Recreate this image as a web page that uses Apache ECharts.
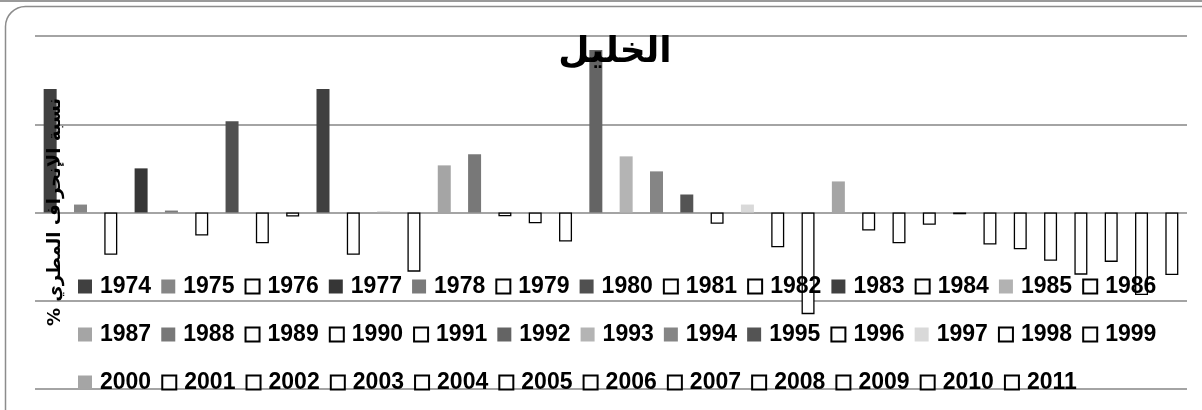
<!DOCTYPE html>
<html>
<head>
<meta charset="utf-8">
<script src="https://cdn.jsdelivr.net/npm/echarts@6/dist/echarts.min.js"></script>
<style>
html,body{margin:0;padding:0;background:#fff;}
#chart{width:1202px;height:410px;}
</style>
</head>
<body>
<div id="chart"></div>
<script>
const titleText = 'الخليل';
const yAxisTitle = 'نسبة الإنحراف المطري %';
const years = ['1974','1975','1976','1977','1978','1979','1980','1981','1982','1983','1984','1985','1986',
               '1987','1988','1989','1990','1991','1992','1993','1994','1995','1996','1997','1998','1999',
               '2000','2001','2002','2003','2004','2005','2006','2007','2008','2009','2010','2011'];
const values = [70, 4.5, -24, 25, 1.1, -13.1, 51.7, -17.4, -2.3, 70, -24, 0.5, -33.5,
                26.7, 33, -2.1, -6.1, -16.5, 92, 31.8, 23.3, 10.2, -6.4, 4.5, -19.7, -57.6,
                17.6, -10.2, -17.4, -7, -1, -18.2, -20.8, -27.3, -35.2, -28, -46.8, -35.4];
const fills = ['#404040','#868686','#ffffff','#363636','#7a7a7a','#ffffff','#505050','#ffffff','#ffffff','#404040','#ffffff','#b2b2b2','#ffffff',
               '#a5a5a5','#787878','#ffffff','#ffffff','#ffffff','#646464','#b4b4b4','#858585','#545454','#ffffff','#d9d9d9','#ffffff','#ffffff',
               '#a5a5a5','#ffffff','#ffffff','#ffffff','#ffffff','#ffffff','#ffffff','#ffffff','#ffffff','#ffffff','#ffffff','#ffffff'];
const legendRows = [years.slice(0,13), years.slice(13,26), years.slice(26)];
const legendTops = [275, 323, 371];

const series = years.map((y, i) => {
  const data = years.map((_, j) => j === i ? values[i] : '-');
  const hollow = fills[i] === '#ffffff';
  return {
    name: y,
    type: 'bar',
    stack: 'all',
    barWidth: 13,
    data: data,
    itemStyle: {
      color: fills[i],
      borderColor: hollow ? '#000000' : fills[i],
      borderWidth: hollow ? 1.3 : 0
    },
    emphasis: {disabled: true}
  };
});

const legendFont = {fontFamily: 'Liberation Sans', fontWeight: 'bold', fontSize: 23, color: '#000', padding: [0,0,0,3]};
const legends = legendRows.map((row, k) => ({
  data: row,
  left: 78,
  top: legendTops[k],
  padding: 0,
  orient: 'horizontal',
  itemWidth: 14,
  itemHeight: 14,
  itemGap: 10.1,
  icon: 'rect',
  textStyle: legendFont,
  selectedMode: false
}));

const chart = echarts.init(document.getElementById('chart'), null, {renderer: 'canvas'});
chart.setOption({
  animation: false,
  backgroundColor: '#ffffff',
  title: {
    text: titleText,
    left: 610,
    textAlign: 'center',
    top: 30,
    textStyle: {fontFamily: 'DejaVu Sans', fontWeight: 'bold', fontSize: 36, color: '#000'}
  },
  legend: legends,
  grid: {left: 35, right: 15, top: 36, bottom: 21, containLabel: false},
  xAxis: {
    type: 'category',
    data: years,
    axisLine: {show: false},
    axisTick: {show: false},
    axisLabel: {show: false},
    splitLine: {show: false}
  },
  yAxis: {
    type: 'value',
    min: -100,
    max: 100,
    interval: 50,
    axisLine: {show: false},
    axisTick: {show: false},
    axisLabel: {show: false},
    splitLine: {show: true, lineStyle: {color: '#868686', width: 1.5}}
  },
  graphic: [
    {type: 'rect', silent: true, z: 0,
     shape: {x: 5.5, y: 6.5, width: 1225, height: 425, r: 20},
     style: {fill: 'none', stroke: '#8c8c8c', lineWidth: 1.5}},
    {type: 'line', silent: true, z: 0,
     shape: {x1: 0, y1: 1, x2: 1202, y2: 1},
     style: {stroke: '#9a9a9a', lineWidth: 2}},
    {type: 'text', silent: true, z: 100,
     x: 55, y: 212, rotation: Math.PI / 2,
     style: {text: '\u202B' + yAxisTitle + '\u202C', align: 'center', verticalAlign: 'middle',
             font: 'bold 18px "DejaVu Sans"', fill: '#000'}}
  ],
  series: series
});
</script>
</body>
</html>
